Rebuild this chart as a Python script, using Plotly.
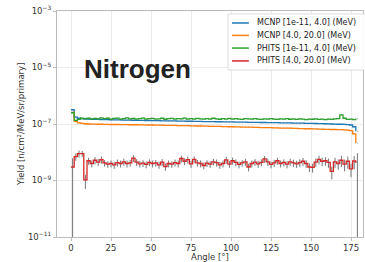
import plotly.graph_objects as go

# bin left edges (degrees), 2-degree bins
bin_width = 2
angles = [i * bin_width for i in range(90)]

mcnp_low = [3.2, 1.75, 1.6, 1.55, 1.5, 1.48, 1.47, 1.46, 1.45, 1.44,
            1.43, 1.42, 1.41, 1.41, 1.40, 1.39, 1.38, 1.38, 1.37, 1.36,
            1.35, 1.35, 1.34, 1.33, 1.33, 1.32, 1.31, 1.31, 1.30, 1.30,
            1.29, 1.28, 1.28, 1.27, 1.26, 1.26, 1.25, 1.25, 1.24, 1.23,
            1.23, 1.22, 1.22, 1.21, 1.21, 1.20, 1.20, 1.19, 1.19, 1.18,
            1.18, 1.17, 1.17, 1.16, 1.16, 1.15, 1.15, 1.14, 1.14, 1.13,
            1.13, 1.12, 1.12, 1.11, 1.11, 1.10, 1.10, 1.09, 1.09, 1.08,
            1.08, 1.07, 1.07, 1.06, 1.05, 1.05, 1.04, 1.03, 1.03, 1.02,
            1.01, 1.00, 0.99, 0.98, 0.98, 0.97, 0.95, 0.92, 0.80, 0.55]  # x1e-7

mcnp_high = [2.6, 1.25, 1.10, 1.05, 1.02, 1.00, 0.99, 0.99, 0.98, 0.98,
             0.97, 0.97, 0.96, 0.96, 0.96, 0.95, 0.95, 0.95, 0.94, 0.94,
             0.94, 0.93, 0.93, 0.93, 0.92, 0.92, 0.91, 0.91, 0.91, 0.90,
             0.90, 0.89, 0.89, 0.88, 0.88, 0.87, 0.87, 0.86, 0.86, 0.85,
             0.85, 0.84, 0.84, 0.83, 0.83, 0.82, 0.82, 0.81, 0.81, 0.80,
             0.80, 0.79, 0.79, 0.78, 0.78, 0.77, 0.77, 0.76, 0.76, 0.75,
             0.75, 0.74, 0.74, 0.73, 0.73, 0.72, 0.72, 0.71, 0.71, 0.70,
             0.70, 0.69, 0.69, 0.68, 0.68, 0.67, 0.67, 0.66, 0.66, 0.65,
             0.65, 0.64, 0.64, 0.63, 0.63, 0.62, 0.61, 0.58, 0.45, 0.21]  # x1e-7

phits_low = [2.5, 1.35, 1.45, 1.6, 1.55, 1.62, 1.5, 1.58, 1.52, 1.65,
             1.55, 1.6, 1.48, 1.57, 1.62, 1.5, 1.55, 1.66, 1.52, 1.58,
             1.5, 1.56, 1.62, 1.49, 1.55, 1.58, 1.5, 1.53, 1.6, 1.47,
             1.54, 1.59, 1.5, 1.56, 1.52, 1.62, 1.49, 1.55, 1.5, 1.57,
             1.52, 1.48, 1.56, 1.5, 1.6, 1.53, 1.47, 1.55, 1.5, 1.58,
             1.49, 1.54, 1.5, 1.46, 1.56, 1.52, 1.48, 1.55, 1.5, 1.45,
             1.53, 1.49, 1.56, 1.5, 1.46, 1.52, 1.48, 1.55, 1.47, 1.51,
             1.46, 1.52, 1.48, 1.44, 1.5, 1.47, 1.53, 1.45, 1.49, 1.42,
             1.5, 1.46, 1.52, 1.55, 2.1, 1.6, 1.45, 1.5, 1.42, 1.55]  # x1e-7

phits_high = [3.0, 7.0, 9.0, 9.0, 1.05, 5.0, 4.0, 5.2, 4.5, 5.5,
              4.2, 3.8, 4.0, 3.6, 4.3, 4.0, 4.6, 4.0, 4.2, 6.2,
              4.5, 3.9, 4.1, 3.7, 4.4, 4.0, 4.2, 3.6, 4.5, 3.1,
              4.0, 3.8, 4.3, 4.0, 6.0, 4.8, 5.5, 3.9, 5.6, 4.2,
              4.0, 3.4, 4.1, 3.8, 4.6, 4.3, 3.6, 4.0, 5.4, 3.8,
              5.0, 4.4, 3.7, 4.2, 4.6, 3.0, 4.0, 4.5, 3.9, 4.4,
              5.8, 4.6, 3.7, 4.2, 5.0, 4.0, 4.4, 3.8, 4.6, 4.2,
              3.9, 4.3, 4.8, 4.0, 3.0, 2.9, 4.5, 5.6, 4.8, 5.0,
              4.4, 2.1, 4.6, 4.0, 5.2, 3.8, 4.8, 2.6, 4.9, 4.2]  # x1e-9

phits_high_err = [3.1, 2.0, 2.5, 2.2, 0.55, 1.4, 1.1, 1.5, 1.2, 1.6,
                  1.1, 1.0, 1.1, 1.0, 1.2, 1.1, 1.3, 1.1, 1.1, 1.7,
                  1.2, 1.0, 1.1, 1.0, 1.2, 1.1, 1.1, 1.0, 1.2, 0.9,
                  1.1, 1.0, 1.2, 1.1, 1.6, 1.3, 1.5, 1.1, 1.5, 1.1,
                  1.1, 0.9, 1.1, 1.0, 1.2, 1.2, 1.0, 1.1, 1.5, 1.0,
                  1.4, 1.2, 1.0, 1.1, 1.3, 0.9, 1.1, 1.2, 1.1, 1.2,
                  1.6, 1.3, 1.0, 1.2, 1.4, 1.1, 1.2, 1.1, 1.3, 1.2,
                  1.1, 1.3, 1.5, 1.2, 1.0, 1.0, 1.5, 1.9, 1.6, 1.7,
                  1.6, 1.0, 1.8, 1.6, 2.2, 1.7, 2.2, 1.3, 2.4, 5.0]  # x1e-9

series = [
    ("MCNP [1e-11, 4.0] (MeV)", mcnp_low, 1e-7, "#1f77b4"),
    ("MCNP [4.0, 20.0] (MeV)", mcnp_high, 1e-7, "#ff7f0e"),
    ("PHITS [1e-11, 4.0] (MeV)", phits_low, 1e-7, "#2ca02c"),
    ("PHITS [4.0, 20.0] (MeV)", phits_high, 1e-9, "#d62728"),
]

tickvals_y = [1e-3, 1e-5, 1e-7, 1e-9, 1e-11]
ticktext_y = ["10<sup>−3</sup>", "10<sup>−5</sup>", "10<sup>−7</sup>",
              "10<sup>−9</sup>", "10<sup>−11</sup>"]
tickvals_x = [0, 25, 50, 75, 100, 125, 150, 175]

fig = go.Figure()
centers = [a + bin_width / 2 for a in angles]

for name, vals, scale, color in series:
    y = [v * scale for v in vals]
    if vals is phits_high:
        err = dict(type="data", array=[e * scale for e in phits_high_err],
                   color="rgba(70,70,70,0.75)", thickness=1, width=0)
    else:
        err = dict(type="percent", value=4, color="rgba(70,70,70,0.55)",
                   thickness=1, width=0)
    fig.add_trace(go.Scatter(x=centers, y=y, mode="markers",
                             marker=dict(size=0.1, color="rgba(0,0,0,0)"),
                             error_y=err, showlegend=False, hoverinfo="skip"))
    fig.add_trace(go.Scatter(x=angles, y=y, mode="lines", name=name,
                             showlegend=False,
                             line=dict(color=color, width=1.3, shape="hv")))

# hand-built legend (matplotlib-like compact spacing)
shapes = [dict(type="rect", xref="paper", yref="paper", x0=0.559, x1=1.02,
               y0=0.739, y1=0.987, fillcolor="rgba(255,255,255,0.92)",
               line=dict(color="#dddddd", width=1), layer="above")]
annotations = []
legend_y = [0.947, 0.892, 0.836, 0.779]
for (name, vals, scale, color), ly in zip(series, legend_y):
    shapes.append(dict(type="line", xref="paper", yref="paper",
                       x0=0.572, x1=0.627, y0=ly, y1=ly,
                       line=dict(color=color, width=1.5), layer="above"))
    annotations.append(dict(text=name, xref="paper", yref="paper",
                            x=0.648, y=ly, xanchor="left", yanchor="middle",
                            showarrow=False,
                            font=dict(family="DejaVu Sans", size=8,
                                      color="#222")))

annotations.append(dict(text="<b>Nitrogen</b>", xref="paper", yref="paper",
                        x=0.263, y=0.742, xanchor="center", yanchor="middle",
                        showarrow=False,
                        font=dict(family="Liberation Sans", size=26,
                                  color="#222")))

# y-axis title placed as rotated text
annotations.append(dict(text="Yield [n/cm²/MeV/sr/primary]", xref="paper",
                        yref="paper", x=-0.118, y=0.5, xanchor="center",
                        yanchor="middle", textangle=-90, showarrow=False,
                        font=dict(family="DejaVu Sans", size=8.5,
                                  color="#333")))

font = "DejaVu Sans"
fig.update_layout(
    width=365, height=262,
    margin=dict(l=57, r=2, t=11, b=25),
    paper_bgcolor="white", plot_bgcolor="white",
    font=dict(family=font, size=8, color="#333"),
    showlegend=False,
    shapes=shapes, annotations=annotations,
    xaxis=dict(range=[-8.75, 182.5], tickvals=tickvals_x, automargin=False,
               showgrid=True, gridcolor="#ebebeb", gridwidth=1,
               zeroline=False, showline=True, linecolor="#bbbbbb",
               linewidth=1, mirror=True, ticks="outside", ticklen=3,
               tickcolor="#bbbbbb", tickfont=dict(size=8.5),
               title=dict(text="Angle [°]", standoff=1,
                          font=dict(size=8.5))),
    yaxis=dict(type="log", range=[-11, -3], tickvals=tickvals_y,
               ticktext=ticktext_y, automargin=False, showgrid=True,
               gridcolor="#ebebeb",
               zeroline=False, showline=True, linecolor="#bbbbbb",
               linewidth=1, mirror=True, ticks="outside", ticklen=3,
               tickcolor="#bbbbbb", tickfont=dict(size=8.5)),
)

fig.write_html("out.html",
               config={"displayModeBar": False, "staticPlot": True},
               post_script="document.body.style.margin='0';"
                           "document.body.style.overflow='hidden';")
